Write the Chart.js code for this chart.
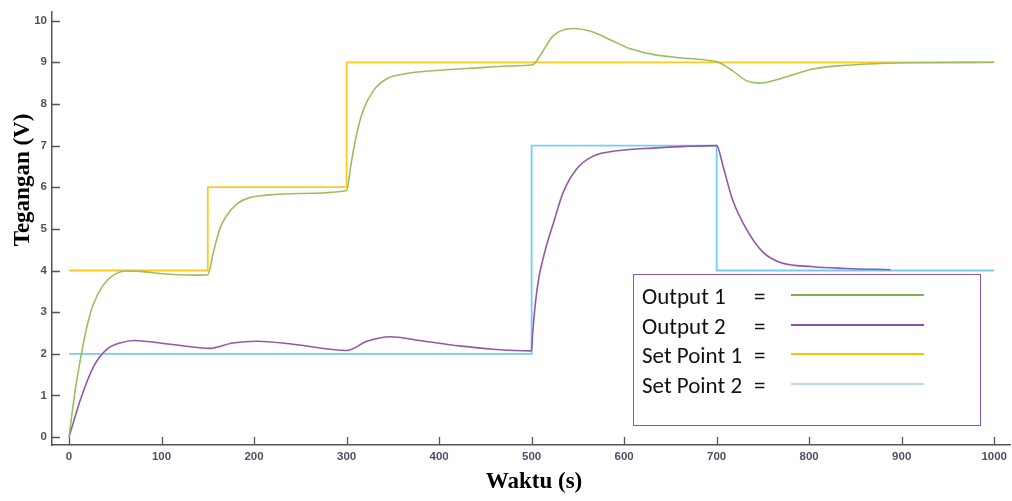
<!DOCTYPE html>
<html>
<head>
<meta charset="utf-8">
<script src="https://cdn.jsdelivr.net/npm/chart.js@4.4.1/dist/chart.umd.min.js"></script>
<style>
  body { margin: 0; background: #fff; }
  #wrap { position: relative; width: 1012px; height: 501px; }
  #legendBox {
    position: absolute; left: 633px; top: 274px; width: 348px; height: 152px;
    border: 1.5px solid #8a55bd; box-sizing: border-box;
    font-family: Carlito, Lato, "Open Sans", sans-serif; font-size: 23px; color: #111;
  }
  .row { position: absolute; left: 8px; height: 30px; line-height: 30px; white-space: nowrap; }
  .eq { position: absolute; left: 112px; }
  .swatch { position: absolute; left: 157px; width: 133px; height: 2px; }
</style>
</head>
<body>
<div id="wrap">
  <canvas id="chart" width="1012" height="501"></canvas>
  <div id="legendBox"></div>
</div>
<script>
// series data (time in s, voltage in V)
const out1Time = [0, 6.5, 12, 19, 26, 37, 48, 62, 77, 98, 118, 135, 150, 156, 163, 170, 181, 195, 213, 249, 300,
  305, 311, 318, 329, 343, 365, 400, 437, 476, 501, 510, 523, 545, 563, 588, 606, 631, 660, 696, 703, 717,
  732, 746, 768, 804, 840, 876, 912, 1000];
const out1Volt = [0, 1.1, 1.83, 2.62, 3.18, 3.65, 3.89, 3.99, 3.98, 3.93, 3.9, 3.89, 3.9, 4.44, 5.0, 5.31, 5.59,
  5.75, 5.81, 5.85, 5.92, 6.58, 7.29, 7.85, 8.32, 8.6, 8.73, 8.81, 8.86, 8.91, 8.94, 9.19, 9.63, 9.81, 9.75,
  9.51, 9.33, 9.19, 9.11, 9.03, 8.99, 8.8, 8.56, 8.5, 8.6, 8.84, 8.93, 8.97, 8.99, 9.0];

const out2Time = [0, 12, 26, 41, 55, 71, 98, 127, 152, 177, 203, 242, 300, 322, 347, 379, 422, 458, 500, 501,
  504, 508, 512, 518, 523, 534, 548, 566, 595, 631, 667, 700, 707, 717, 732, 750, 768, 804, 840, 888];
const out2Volt = [0, 0.88, 1.67, 2.11, 2.26, 2.32, 2.26, 2.18, 2.13, 2.26, 2.3, 2.23, 2.08, 2.3, 2.41, 2.32, 2.19,
  2.11, 2.07, 2.45, 3.2, 3.85, 4.25, 4.75, 5.1, 5.87, 6.42, 6.74, 6.88, 6.94, 6.98, 7.0, 6.5, 5.71, 5.0, 4.44,
  4.2, 4.09, 4.05, 4.02];

const sp1Time = [0, 150, 150, 300, 300, 1000];
const sp1Volt = [4, 4, 6, 6, 9, 9];
const sp2Time = [0, 500, 500, 700, 700, 1000];
const sp2Volt = [2, 2, 7, 7, 4, 4];

const legendNames = ['Output 1', 'Output 2', 'Set Point 1', 'Set Point 2'];
const colors = ['#9bbf5a', '#9458a6', '#ffc824', '#74cdf2'];
const legendColors = ['#7fb14a', '#8a4fb0', '#ffc000', '#b9d8f0'];

function pts(t, v) {
  return t.map(function(x, i) { return { x: x, y: v[i] }; });
}

// legend box (html overlay)
const box = document.getElementById('legendBox');
legendNames.forEach(function(name, i) {
  const row = document.createElement('div');
  row.className = 'row';
  row.style.top = (6 + i * 29.5) + 'px';
  row.textContent = name;
  const eq = document.createElement('span');
  eq.className = 'eq';
  eq.textContent = '=';
  row.appendChild(eq);
  box.appendChild(row);
  const sw = document.createElement('div');
  sw.className = 'swatch';
  sw.style.top = (19 + i * 29.5) + 'px';
  sw.style.background = legendColors[i];
  box.appendChild(sw);
});

const axisDecor = {
  id: 'axisDecor',
  afterDraw: function(chart) {
    const ctx = chart.ctx;
    const xs = chart.scales.x, ys = chart.scales.y;
    const area = chart.chartArea;
    ctx.save();
    ctx.strokeStyle = '#555';
    ctx.lineWidth = 1.3;
    ctx.beginPath();
    xs.ticks.forEach(function(t) {
      const px = Math.round(xs.getPixelForValue(t.value)) + 0.5;
      ctx.moveTo(px, area.bottom);
      ctx.lineTo(px, area.bottom - 8);
    });
    ys.ticks.forEach(function(t) {
      const py = Math.round(ys.getPixelForValue(t.value)) + 0.5;
      ctx.moveTo(area.left, py);
      ctx.lineTo(area.left + 8, py);
    });
    ctx.stroke();

    ctx.fillStyle = '#000';
    ctx.font = 'bold 23px "Liberation Serif", "Times New Roman", serif';
    ctx.textAlign = 'center';
    ctx.textBaseline = 'middle';
    ctx.fillText('Waktu (s)', 534, 482);
    ctx.translate(23, 180);
    ctx.rotate(-Math.PI / 2);
    ctx.fillText('Tegangan (V)', 0, 0);
    ctx.restore();
  }
};

new Chart(document.getElementById('chart'), {
  type: 'line',
  data: {
    datasets: [
      { label: legendNames[0], data: pts(out1Time, out1Volt), borderColor: colors[0], borderWidth: 1.6,
        pointRadius: 0, cubicInterpolationMode: 'monotone' },
      { label: legendNames[1], data: pts(out2Time, out2Volt), borderColor: colors[1], borderWidth: 1.6,
        pointRadius: 0, cubicInterpolationMode: 'monotone' },
      { label: legendNames[2], data: pts(sp1Time, sp1Volt), borderColor: colors[2], borderWidth: 1.8,
        pointRadius: 0, tension: 0 },
      { label: legendNames[3], data: pts(sp2Time, sp2Volt), borderColor: colors[3], borderWidth: 1.8,
        pointRadius: 0, tension: 0 }
    ]
  },
  options: {
    responsive: false,
    animation: false,
    layout: { padding: { top: 7, right: 0, left: 0, bottom: 0 } },
    plugins: { legend: { display: false }, tooltip: { enabled: false } },
    scales: {
      x: {
        type: 'linear', min: -18.4, max: 1018,
        grid: { display: false, drawTicks: false },
        border: { display: true, color: '#555', width: 1.5 },
        ticks: { stepSize: 100, includeBounds: false, padding: 5, color: '#4f4f66',
          font: { family: '"Liberation Sans", Arial, sans-serif', size: 11.5, weight: 'bold' },
          callback: function(v) { return (v >= 0 && v % 100 === 0) ? v : ''; } },
        afterFit: function(s) { s.height = 56; }
      },
      y: {
        min: -0.19, max: 10.21,
        grid: { display: false, drawTicks: false },
        border: { display: true, color: '#555', width: 1.5 },
        ticks: { stepSize: 1, includeBounds: false, padding: 5, color: '#4f4f66',
          font: { family: '"Liberation Sans", Arial, sans-serif', size: 11.5, weight: 'bold' },
          callback: function(v) { return (v >= 0 && Number.isInteger(v)) ? v : ''; } },
        afterFit: function(s) { s.width = 52; }
      }
    }
  },
  plugins: [axisDecor]
});
</script>
</body>
</html>
